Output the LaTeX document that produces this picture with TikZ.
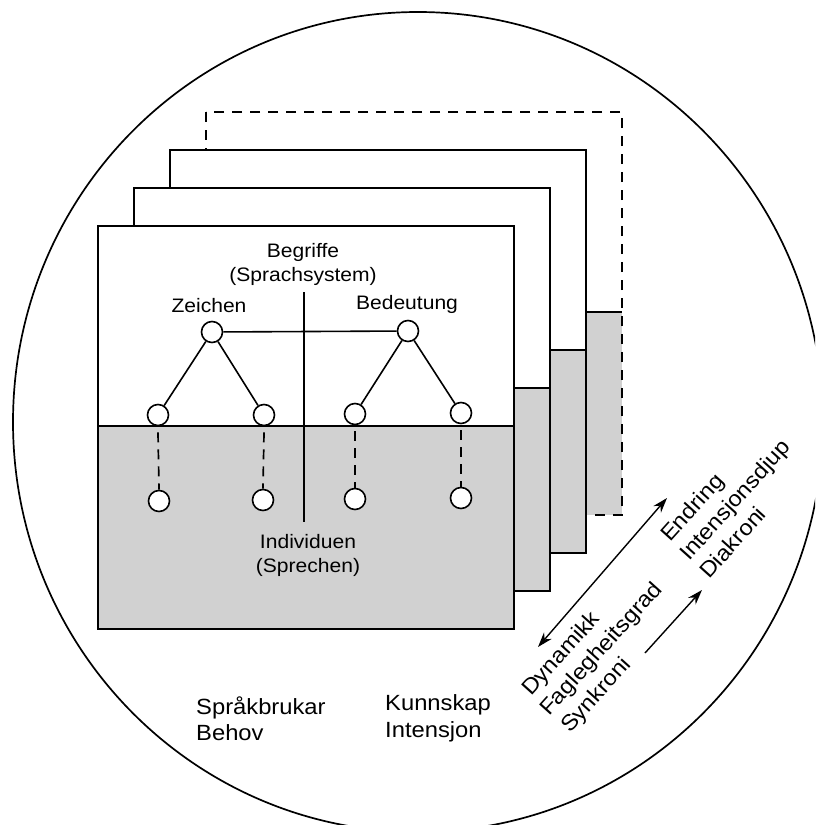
\documentclass[tikz,border=0pt]{standalone}
\usepackage{fontspec}
\setmainfont{Liberation Sans}[FakeStretch=1.08]
\usetikzlibrary{arrows.meta}

\begin{document}
\begin{tikzpicture}[x=1pt,y=-1pt,
  >={Stealth[length=15pt,width=10pt]},
  ln/.style={line width=1.6pt},
  shade/.style={fill=black!18},
  dot/.style={circle,draw,line width=1.6pt,fill=white,minimum size=21pt,inner sep=0pt},
  link/.style={line width=1.6pt},
  drop/.style={line width=1.7pt,dash pattern=on 10pt off 7pt},
  lbl/.style={font=\fontsize{19.5}{24}\selectfont,inner sep=0pt,anchor=base},
  big/.style={font=\fontsize{22}{26}\selectfont,inner sep=0pt,anchor=base west},
  axis/.style={font=\fontsize{22}{26}\selectfont,inner sep=0pt,anchor=base west,rotate=48},
  arr/.style={line width=1.4pt}
]
\useasboundingbox (0,0) rectangle (815,825);
\clip (0,0) rectangle (815,825);

% outer boundary
\draw[line width=1.7pt] (418,422) ellipse [x radius=405, y radius=410];

% stack of sheets, back to front
\begin{scope}[shift={(108,-114)}]
  \fill[white] (98,226) rectangle (514,426);
  \fill[shade] (98,426) rectangle (514,629);
  \draw[ln] (98,426) -- (514,426);
  \draw[ln,dash pattern=on 10pt off 8pt] (98,226) rectangle (514,629);
\end{scope}
\foreach \k in {2,1,0}{
  \begin{scope}[shift={(36*\k,-38*\k)}]
    \fill[white] (98,226) rectangle (514,426);
    \fill[shade] (98,426) rectangle (514,629);
    \draw[ln] (98,426) -- (514,426);
    \draw[ln] (98,226) rectangle (514,629);
  \end{scope}
}

% labels on the front sheet
\node[lbl] (begr) at (303,257) {Begriffe};
\node[lbl] (sys) at (303,281) {(Sprachsystem)};
\node[lbl] (zei) at (209,312) {Zeichen};
\node[lbl] (bed) at (407,309) {Bedeutung};
\node[lbl] (ind) at (308,548) {Individuen};
\node[lbl] (spr) at (308,572) {(Sprechen)};

% divider
\coordinate (dtop) at (304,292);
\coordinate (dbot) at (304,522);
\draw[link] (dtop) -- (dbot);

% the two trees
\node[dot] (z) at (212,332) {};
\node[dot] (b) at (408,331) {};
\node[dot] (m1) at (158,415) {};
\node[dot] (m2) at (264,415) {};
\node[dot] (m3) at (355,414) {};
\node[dot] (m4) at (461,413) {};
\node[dot] (u1) at (159,501) {};
\node[dot] (u2) at (263,500) {};
\node[dot] (u3) at (355,499) {};
\node[dot] (u4) at (461,498) {};

\draw[link] (z) -- (b);
\draw[link] (z) -- (m1);
\draw[link] (z) -- (m2);
\draw[link] (b) -- (m3);
\draw[link] (b) -- (m4);
\foreach \i in {1,2,3,4}{
  \draw[drop] ([yshift=-6pt]m\i.south) -- (u\i.north);
}

% labels below the sheets
\node[big] (brukar) at (196,714) {Språkbrukar};
\node[big] (behov) at (196,740) {Behov};
\node[big] (kunn) at (385,710) {Kunnskap};
\node[big] (intj) at (385,737) {Intensjon};

% diagonal labels
\node[axis] (dyn) at (531,697) {Dynamikk};
\node[axis] (fag) at (549,717) {Faglegheitsgrad};
\node[axis] (syn) at (570,734) {Synkroni};
\node[axis] (endr) at (670,543) {Endring};
\node[axis] (ints) at (689,562) {Intensjonsdjup};
\node[axis] (dia) at (709,580) {Diakroni};

% arrows
\coordinate (a1) at (538,647);
\coordinate (a2) at (667,498);
\coordinate (b1) at (645,653);
\coordinate (b2) at (702,590);
\draw[arr,<->] (a1) -- (a2);
\draw[arr,->] (b1) -- (b2);
\end{tikzpicture}
\end{document}
